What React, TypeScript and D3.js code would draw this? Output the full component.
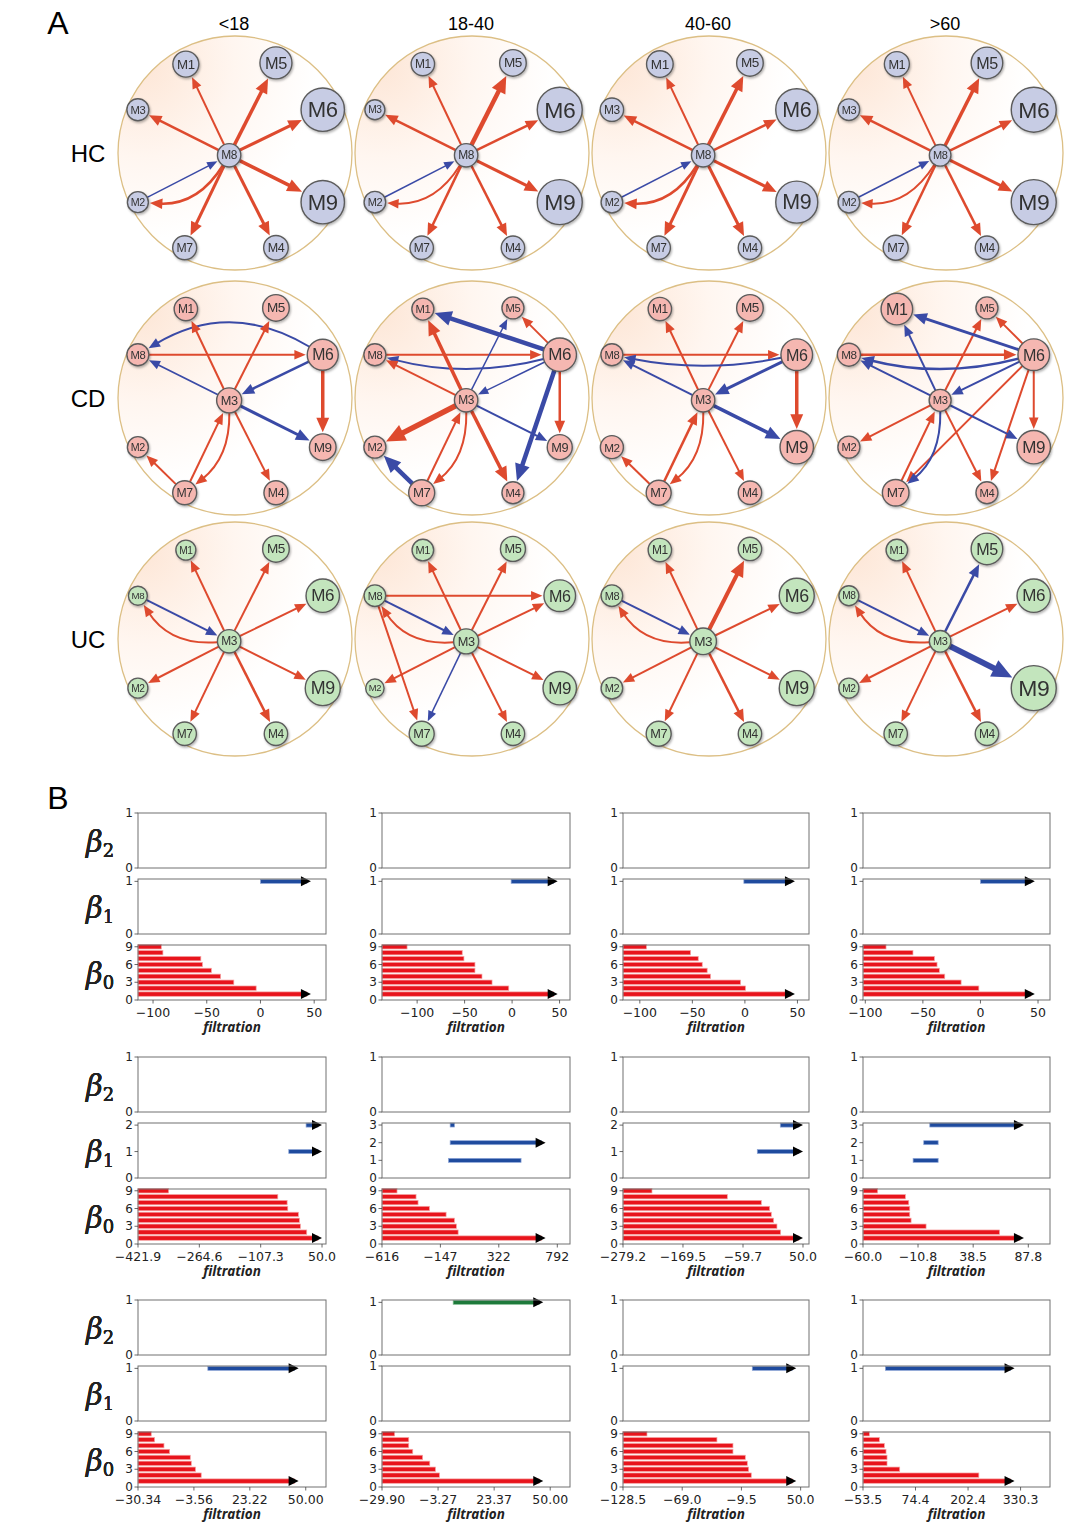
import * as d3 from "d3";

// ---------- Panel A data ----------
const ageGroups = ["<18", "18-40", "40-60", ">60"];
const cohorts = ["HC", "CD", "UC"];
const modules = ["M1", "M2", "M3", "M4", "M5", "M6", "M7", "M8", "M9"];

// node radius per module (M1..M9), one row per age group
const hcRadius = [
  [13, 10.5, 11, 12.3, 16, 21.7, 12, 11.7, 21.7],
  [11.7, 10.8, 10, 11.7, 13.3, 22.5, 11.7, 11.7, 22.5],
  [13.3, 10.8, 11.7, 11.7, 13.3, 21, 11.7, 11.7, 21],
  [12.5, 10.8, 10.8, 11.7, 15.8, 22.5, 12.5, 10.8, 22.5],
];
const cdRadius = [
  [11.7, 10.5, 12.5, 12, 13.3, 15.5, 12, 11, 13.3],
  [11, 11, 11.7, 11, 11, 16.7, 13, 11, 12.5],
  [11.7, 11.5, 11.7, 11.7, 13.3, 15.8, 12.5, 11, 16.7],
  [15.8, 11, 11, 11, 11, 15.8, 13.3, 11.5, 16.7],
];
const ucRadius = [
  [10, 10, 11.7, 11.7, 13.3, 16.7, 11.7, 9.5, 17.5],
  [10.8, 9.2, 12.5, 11.7, 12.5, 15.8, 12.5, 10.8, 16.7],
  [11.7, 10.8, 13.3, 11.7, 11.7, 17.5, 12.5, 10.8, 17.5],
  [10.8, 10, 10.8, 11.7, 15.8, 16.7, 11.7, 10, 22.5],
];

// edges: [from, to, colour (r = positive, b = negative), width, curvature]
type Edge = [string, string, string, number, number?];

const hcEdges: Edge[][] = [
  [["M8", "M1", "r", 2], ["M8", "M5", "r", 3.5], ["M8", "M3", "r", 2.5], ["M8", "M6", "r", 3], ["M8", "M9", "r", 3.5],
   ["M8", "M4", "r", 3], ["M8", "M7", "r", 3], ["M2", "M8", "b", 1.5], ["M8", "M2", "r", 2.5, -0.3]],
  [["M8", "M1", "r", 2], ["M8", "M5", "r", 4.5], ["M8", "M3", "r", 2.5], ["M8", "M6", "r", 2.5], ["M8", "M9", "r", 3],
   ["M8", "M4", "r", 2.5], ["M8", "M7", "r", 2.5], ["M2", "M8", "b", 1.5], ["M8", "M2", "r", 2, -0.3]],
  [["M8", "M1", "r", 2], ["M8", "M5", "r", 3.5], ["M8", "M3", "r", 2.5], ["M8", "M6", "r", 2.5], ["M8", "M9", "r", 3],
   ["M8", "M4", "r", 3], ["M8", "M7", "r", 3], ["M2", "M8", "b", 1.5], ["M8", "M2", "r", 2.5, -0.3]],
  [["M8", "M1", "r", 2], ["M8", "M5", "r", 3.5], ["M8", "M3", "r", 2.5], ["M8", "M6", "r", 2.5], ["M8", "M9", "r", 3],
   ["M8", "M4", "r", 2.5], ["M8", "M7", "r", 2.5], ["M2", "M8", "b", 1.5], ["M8", "M2", "r", 2, -0.3]],
];

const cdEdges: Edge[][] = [
  [["M6", "M8", "b", 2, 0.3], ["M8", "M6", "r", 2], ["M3", "M1", "r", 2], ["M3", "M5", "r", 2], ["M3", "M8", "b", 1.8],
   ["M6", "M3", "b", 2.5], ["M6", "M9", "r", 3.5], ["M3", "M9", "b", 3], ["M3", "M4", "r", 2], ["M7", "M3", "r", 2],
   ["M3", "M7", "r", 2, -0.25], ["M7", "M2", "r", 2]],
  [["M8", "M6", "r", 2], ["M6", "M8", "b", 2, -0.13], ["M3", "M8", "r", 2], ["M3", "M1", "r", 3.5], ["M6", "M5", "r", 2],
   ["M6", "M9", "r", 2.5], ["M3", "M2", "r", 5.5], ["M3", "M4", "r", 3.5], ["M7", "M3", "r", 2], ["M3", "M7", "r", 2, -0.25],
   ["M6", "M1", "b", 4.5], ["M3", "M5", "b", 1.5], ["M6", "M3", "b", 1.5], ["M6", "M4", "b", 4.5], ["M3", "M9", "b", 2],
   ["M7", "M2", "b", 4.5]],
  [["M3", "M1", "r", 2], ["M3", "M5", "r", 2], ["M8", "M6", "r", 2], ["M6", "M8", "b", 2, -0.1], ["M3", "M8", "b", 2],
   ["M6", "M3", "b", 3], ["M6", "M9", "r", 3.5], ["M3", "M9", "b", 3.5], ["M3", "M4", "r", 2], ["M7", "M3", "r", 2.5],
   ["M3", "M7", "r", 2, -0.25], ["M7", "M2", "r", 2]],
  [["M6", "M5", "r", 2], ["M7", "M3", "r", 2], ["M3", "M5", "r", 2], ["M8", "M6", "r", 2.5], ["M6", "M7", "r", 2],
   ["M6", "M9", "r", 2], ["M6", "M4", "r", 2], ["M3", "M2", "r", 2], ["M3", "M4", "r", 2], ["M6", "M1", "b", 3],
   ["M3", "M1", "b", 2], ["M6", "M8", "b", 2.5, -0.13], ["M3", "M8", "b", 2], ["M6", "M3", "b", 2], ["M3", "M9", "b", 2],
   ["M3", "M7", "b", 2, -0.25]],
];

const ucEdges: Edge[][] = [
  [["M3", "M1", "r", 2], ["M3", "M5", "r", 2], ["M3", "M6", "r", 2], ["M3", "M9", "r", 2], ["M3", "M4", "r", 2.5],
   ["M3", "M7", "r", 2], ["M3", "M2", "r", 2], ["M8", "M3", "b", 2], ["M3", "M8", "r", 2, -0.3]],
  [["M3", "M1", "r", 2], ["M3", "M5", "r", 2], ["M3", "M6", "r", 2], ["M3", "M9", "r", 2], ["M3", "M4", "r", 2],
   ["M3", "M2", "r", 2], ["M8", "M6", "r", 2], ["M8", "M7", "r", 2], ["M8", "M3", "b", 2], ["M3", "M8", "r", 2, -0.3],
   ["M3", "M7", "b", 1.5]],
  [["M3", "M1", "r", 2], ["M3", "M5", "r", 4], ["M3", "M6", "r", 2], ["M3", "M9", "r", 2], ["M3", "M4", "r", 2.5],
   ["M3", "M7", "r", 2], ["M3", "M2", "r", 2], ["M8", "M3", "b", 2], ["M3", "M8", "r", 2, -0.3]],
  [["M3", "M1", "r", 2], ["M3", "M6", "r", 2], ["M3", "M4", "r", 2.5], ["M3", "M7", "r", 2], ["M3", "M2", "r", 2],
   ["M3", "M8", "r", 2, -0.3], ["M3", "M5", "b", 2.5], ["M3", "M9", "b", 6], ["M8", "M3", "b", 2]],
];

// ---------- Panel B data (barcodes, row-major: HC, CD, UC x age groups) ----------
const xTickLabels = [
  ["-100", "-50", "0", "50"], ["-100", "-50", "0", "50"], ["-100", "-50", "0", "50"], ["-100", "-50", "0", "50"],
  ["-421.9", "-264.6", "-107.3", "50.0"], ["-616", "-147", "322", "792"], ["-279.2", "-169.5", "-59.7", "50.0"], ["-60.0", "-10.8", "38.5", "87.8"],
  ["-30.34", "-3.56", "23.22", "50.00"], ["-29.90", "-3.27", "23.37", "50.00"], ["-128.5", "-69.0", "-9.5", "50.0"], ["-53.5", "74.4", "202.4", "330.3"],
];
const xDomains = [
  [-114, 61], [-137, 61], [-116, 61], [-102, 60.4],
  [-421.9, 60.2], [-616, 894], [-279.2, 61], [-60, 107.2],
  [-30.34, 59.7], [-29.9, 59.4], [-128.5, 58.4], [-53.5, 402],
];
// beta0 death values for bars 1..9 (bar 1 never dies: value = arrow tip)
const beta0Deaths = [
  [47, -4, -24.8, -37.1, -45.7, -54, -55.5, -90.8, -92.3],
  [48, -3.5, -21.1, -31.7, -39.1, -39.1, -50.7, -52.5, -110.6],
  [47.6, 0.6, -4.1, -32.7, -35.9, -40.6, -44.4, -51.7, -93.7],
  [47.2, -1.4, -16.8, -31, -35.7, -37.7, -40, -58.6, -82],
  [50, 10.8, -5.4, -8, -10.5, -37.8, -39.5, -63.4, -343.4],
  [698, -4.4, -18.4, -34.1, -101.1, -235.2, -326.4, -342.5, -495.3],
  [50, 9.1, 2.4, -3.7, -7.9, -11, -26.2, -88.4, -226.2],
  [83.9, 62.1, -3.6, -17, -18.2, -18.2, -19.1, -22.1, -46.9],
  [46.6, -0.06, -2.8, -4.8, -5.3, -15.2, -17.9, -22.4, -24],
  [46.7, -2.6, -4.5, -7.2, -10.6, -15.3, -17.2, -17.2, -23.9],
  [45.6, 0.4, -2.3, -3.6, -5.6, -18, -18, -34.1, -104.4],
  [315.7, 228.7, 35.9, 5.05, 5.05, 2.6, -1.5, -13.7, -38],
];
// beta1 bars: [level, birth, death, persists]
const beta1Bars = [
  [[1, 0, 47, 1]],
  [[1, -1, 48, 1]],
  [[1, -1, 47.6, 1]],
  [[1, 0, 47.2, 1]],
  [[2, 9.1, 50, 1], [1, -35.3, 50, 1]],
  [[3, -68.6, -33.8, 0], [2, -68.6, 698, 1], [1, -82, 501, 0]],
  [[2, 8.5, 50, 1], [1, -33.6, 50, 1]],
  [[3, -0.3, 83.9, 1], [2, -5.7, 7.2, 0], [1, -15.2, 7.2, 0]],
  [[1, 3.1, 46.6, 1]],
  [],
  [[1, 1.4, 45.6, 1]],
  [[1, 1, 315.7, 1]],
];
const beta1Max = [1, 1, 1, 1, 2, 3, 2, 3, 1, 1, 1, 1];
const beta2Bars = [[], [], [], [], [], [], [], [], [], [[1, 3.9, 46.7, 1]], [], []];

// ---------- layout ----------
const W = 1080;
const H = 1534;
const R = 117;
const circleX = [235, 472, 709, 946];
const circleY = [153, 398, 639];
const RED = "#de4a2e";
const BLUE = "#3a4aa6";
const nodeFill = ["#c7cce4", "#f5b7b1", "#c3e5bd"];

// unit positions of the ring slots (fraction of circle radius)
const slots: Record<string, [number, number]> = {
  tl: [-0.42, -0.76], tr: [0.35, -0.77], ul: [-0.83, -0.37], ur: [0.75, -0.37], c: [-0.05, 0.02],
  ll: [-0.83, 0.42], lr: [0.75, 0.42], bl: [-0.43, 0.81], br: [0.35, 0.81],
};
const slotOf: Record<string, string> = { M1: "tl", M2: "ll", M4: "br", M5: "tr", M6: "ur", M7: "bl", M9: "lr" };

const axLeft = [138, 382, 623, 863];
const axWidth = [188, 188, 186, 187];
const groupTop = [813, 1057, 1300];
const PH = 55;
const PSTEP = 66;

type P = { x: number; y: number; r: number };

function edgeGeom(p: P, q: P, w: number, curve: number) {
  const dx = q.x - p.x, dy = q.y - p.y;
  const len = Math.hypot(dx, dy);
  const nx = -dy / len, ny = dx / len;
  const cx = (p.x + q.x) / 2 + nx * curve * len;
  const cy = (p.y + q.y) / 2 + ny * curve * len;
  const sdx = cx - p.x, sdy = cy - p.y;
  const sl = Math.hypot(sdx, sdy);
  const sx = p.x + (sdx / sl) * p.r, sy = p.y + (sdy / sl) * p.r;
  const edx = q.x - cx, edy = q.y - cy;
  const el = Math.hypot(edx, edy);
  const ux = edx / el, uy = edy / el;
  const tx = q.x - ux * (q.r + 1.5), ty = q.y - uy * (q.r + 1.5);
  const L = 7 + 2.2 * w, HW = 2.6 + 1.1 * w;
  const bx = tx - ux * L, by = ty - uy * L;
  const lx = tx - ux * L * 0.7, ly = ty - uy * L * 0.7;
  const path = d3.path();
  path.moveTo(sx, sy);
  if (curve) path.quadraticCurveTo(cx, cy, lx, ly);
  else path.lineTo(lx, ly);
  const head = `M${tx},${ty}L${bx - uy * HW},${by + ux * HW}L${bx + uy * HW},${by - ux * HW}Z`;
  return { line: path.toString(), head };
}

function Network({ row, col }: { row: number; col: number }) {
  const cx = circleX[col];
  const cy = circleY[row];
  const radii = [hcRadius, cdRadius, ucRadius][row][col];
  const edges = [hcEdges, cdEdges, ucEdges][row][col];
  const hub = row === 0 ? "M8" : "M3";
  const sx = d3.scaleLinear().domain([-1, 1]).range([cx - R, cx + R]);
  const sy = d3.scaleLinear().domain([-1, 1]).range([cy - R, cy + R]);
  const nodes = new Map<string, P>();
  modules.forEach((m, i) => {
    const slot = m === hub ? "c" : m === "M3" || m === "M8" ? "ul" : slotOf[m];
    const [ux, uy] = slots[slot];
    nodes.set(m, { x: sx(ux), y: sy(uy), r: radii[i] });
  });
  return (
    <g>
      <circle cx={cx} cy={cy} r={R} fill="url(#bgGrad)" stroke="#dcbf85" strokeWidth={1.3} />
      {edges.map((e, i) => {
        const [a, b, c, w, curve] = e;
        const g = edgeGeom(nodes.get(a)!, nodes.get(b)!, w, curve || 0);
        const col = c === "r" ? RED : BLUE;
        return (
          <g key={i}>
            <path d={g.line} fill="none" stroke={col} strokeWidth={w} />
            <path d={g.head} fill={col} />
          </g>
        );
      })}
      {modules.map((m) => {
        const n = nodes.get(m)!;
        return (
          <g key={m} filter="url(#shadow)">
            <circle cx={n.x} cy={n.y} r={n.r} fill={nodeFill[row]} stroke="#5b5b5b" strokeWidth={1.4} />
            <text
              x={n.x}
              y={n.y}
              textAnchor="middle"
              dominantBaseline="central"
              fontFamily="Liberation Sans, Arial, sans-serif"
              fontSize={n.r * 1.02}
              letterSpacing={-0.4}
              fill="#333"
            >
              {m}
            </text>
          </g>
        );
      })}
    </g>
  );
}

const fmt = (s: string) => s.replace("-", "\u2212");

function BarPanel({ x, top, bars, yMax, ticks, color, edge, barH, label }: any) {
  const [x0, x1] = x.range();
  const y = d3.scaleLinear().domain([0, yMax]).range([top + PH, top]);
  return (
    <g>
      {bars.map((b: number[], i: number) => {
        const [lvl, birth, death, inf] = b;
        const xs = x(birth);
        const xe = x(death);
        const yc = y(lvl);
        return (
          <g key={i}>
            <rect
              x={xs}
              y={yc - barH / 2}
              width={Math.max(1.5, (inf ? xe - 4 : xe) - xs)}
              height={barH}
              fill={color}
              stroke={edge}
              strokeWidth={0.7}
            />
            {inf ? <path d={`M${xe},${yc}L${xe - 10},${yc - 5}L${xe - 10},${yc + 5}Z`} fill="#000" /> : null}
          </g>
        );
      })}
      <rect x={x0} y={top} width={x1 - x0} height={PH} fill="none" stroke="#707070" strokeWidth={1} />
      {ticks.map((t: number) => (
        <g key={t}>
          <line x1={x0 - 3.5} x2={x0} y1={y(t)} y2={y(t)} stroke="#444" strokeWidth={0.8} />
          <text
            x={x0 - 5}
            y={y(t)}
            textAnchor="end"
            dominantBaseline="central"
            fontFamily="DejaVu Sans, sans-serif"
            fontSize={12}
            fill="#222"
          >
            {t}
          </text>
        </g>
      ))}
      <text x={86} y={top + PH / 2 + 11} fontFamily="DejaVu Serif, serif" fontStyle="italic" fontSize={29} fill="#222">
        β
        <tspan fontStyle="normal" fontSize={18} dy={5}>
          {label}
        </tspan>
      </text>
    </g>
  );
}

function Barcode({ g }: { g: number }) {
  const row = Math.floor(g / 4);
  const col = g % 4;
  const left = axLeft[col];
  const x = d3.scaleLinear().domain(xDomains[g]).range([left, left + axWidth[col]]);
  const top = groupTop[row];
  const b0 = beta0Deaths[g].map((d, i) => [i + 1, xDomains[g][0], d, i === 0 ? 1 : 0]);
  const b1 = beta1Bars[g];
  const b2 = beta2Bars[g];
  const b1Max = b1.length ? beta1Max[g] * 1.035 + 0.01 : 1;
  const b2Max = b2.length ? 1.045 : 1;
  const bottom = top + 2 * PSTEP + PH;
  return (
    <g>
      <BarPanel x={x} top={top} bars={b2} yMax={b2Max} ticks={[0, 1]} color="#1e7a3b" edge="#86c096" barH={4} label="2" />
      <BarPanel
        x={x}
        top={top + PSTEP}
        bars={b1}
        yMax={b1Max}
        ticks={d3.range(0, beta1Max[g] + 1)}
        color="#1f4b9e"
        edge="#8ea6d8"
        barH={4}
        label="1"
      />
      <BarPanel
        x={x}
        top={top + 2 * PSTEP}
        bars={b0}
        yMax={9.3}
        ticks={[0, 3, 6, 9]}
        color="#e8141c"
        edge="#f6a4a4"
        barH={4.4}
        label="0"
      />
      {xTickLabels[g].map((s) => {
        const v = parseFloat(s);
        return (
          <g key={s}>
            <line x1={x(v)} x2={x(v)} y1={bottom} y2={bottom + 3.5} stroke="#444" strokeWidth={0.8} />
            <text
              x={x(v)}
              y={bottom + 17}
              textAnchor="middle"
              fontFamily="DejaVu Sans, sans-serif"
              fontSize={12.5}
              fill="#222"
            >
              {fmt(s)}
            </text>
          </g>
        );
      })}
      <text
        x={left + axWidth[col] / 2}
        y={bottom + 32}
        textAnchor="middle"
        fontFamily="Noto Sans, sans-serif"
        fontStyle="italic"
        fontWeight="bold"
        fontSize={13.5}
        fill="#222"
      >
        filtration
      </text>
    </g>
  );
}

export default function App() {
  return (
    <div style={{ position: "absolute", left: 0, top: 0 }}>
      <svg width={W} height={H} viewBox={`0 0 ${W} ${H}`} style={{ display: "block", background: "#fff" }}>
        <defs>
          <radialGradient id="bgGrad" cx="0.1" cy="0.12" r="1">
            <stop offset="0" stopColor="#fde6d6" />
            <stop offset="0.4" stopColor="#fff6f0" />
            <stop offset="0.75" stopColor="#ffffff" />
          </radialGradient>
          <filter id="shadow" x="-30%" y="-30%" width="160%" height="160%">
            <feDropShadow dx="1" dy="1.5" stdDeviation="1" floodColor="#000" floodOpacity="0.3" />
          </filter>
        </defs>
        <rect width={W} height={H} fill="#fff" />

        {/* Panel A */}
        <text x={58} y={34} textAnchor="middle" fontFamily="Liberation Sans, Arial, sans-serif" fontSize={32}>
          A
        </text>
        {ageGroups.map((a, i) => (
          <text
            key={a}
            x={circleX[i] - 1}
            y={30}
            textAnchor="middle"
            fontFamily="Liberation Sans, Arial, sans-serif"
            fontSize={18}
          >
            {a}
          </text>
        ))}
        {cohorts.map((c, i) => (
          <text
            key={c}
            x={88}
            y={circleY[i] + 9}
            textAnchor="middle"
            fontFamily="Liberation Sans, Arial, sans-serif"
            fontSize={24}
          >
            {c}
          </text>
        ))}
        {cohorts.map((_, r) => ageGroups.map((_, c) => <Network key={`${r}-${c}`} row={r} col={c} />))}

        {/* Panel B */}
        <text x={58} y={809} textAnchor="middle" fontFamily="Liberation Sans, Arial, sans-serif" fontSize={32}>
          B
        </text>
        {d3.range(12).map((g) => (
          <Barcode key={g} g={g} />
        ))}
      </svg>
    </div>
  );
}
